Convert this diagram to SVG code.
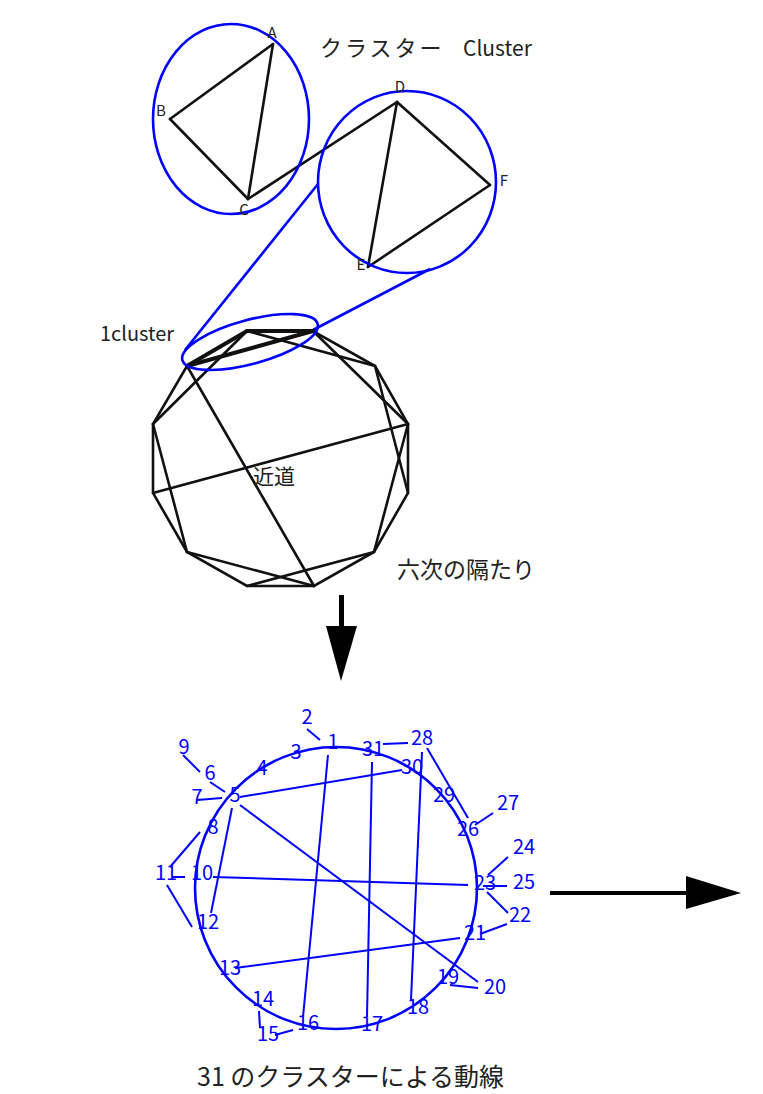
<svg xmlns="http://www.w3.org/2000/svg" width="763" height="1094" viewBox="0 0 763 1094">
<style>
.k{stroke:#111;stroke-width:2.6;fill:none;stroke-linecap:round}
.kt{stroke:#111;stroke-width:4;fill:none;stroke-linecap:round}
.b{stroke:#0000ff;stroke-width:2.6;fill:none}
.bl{stroke:#0000ff;stroke-width:2;fill:none}
.lab{font-family:"Noto Sans CJK JP","Noto Sans",sans-serif;fill:#222}
.n{font-family:"Noto Sans CJK JP","Noto Sans",sans-serif;fill:#0000ff;font-size:20px;text-anchor:middle}
</style>
<rect width="763" height="1094" fill="#fff"/>
<g id="connectors">
  <line class="k" x1="273" y1="44" x2="170" y2="119"/>
  <line class="k" x1="170" y1="119" x2="248" y2="199"/>
  <line class="k" x1="248" y1="199" x2="273" y2="44"/>
  <line class="k" x1="248" y1="199" x2="397" y2="102"/>
  <line class="k" x1="397" y1="102" x2="368" y2="267"/>
  <line class="k" x1="397" y1="102" x2="490" y2="185"/>
  <line class="k" x1="490" y1="185" x2="368" y2="267"/>
  <line class="b" x1="185" y1="350" x2="318" y2="184"/>
  <line class="b" x1="313" y1="330" x2="430" y2="269"/>
  <polygon class="k" points="247,331 313,331 375,366 408,424 408,493 374,552 314,586 247,586 187,552 153,493 153,424 187,366"/>
  <line class="k" x1="247" y1="331" x2="375" y2="366"/>
  <line class="k" x1="313" y1="331" x2="408" y2="424"/>
  <line class="k" x1="375" y1="366" x2="408" y2="493"/>
  <line class="k" x1="408" y1="424" x2="374" y2="552"/>
  <line class="k" x1="374" y1="552" x2="247" y2="586"/>
  <line class="k" x1="314" y1="586" x2="187" y2="552"/>
  <line class="k" x1="187" y1="552" x2="153" y2="424"/>
  <line class="k" x1="153" y1="424" x2="247" y2="331"/>
  <line class="k" x1="153" y1="493" x2="408" y2="424"/>
  <line class="k" x1="187" y1="366" x2="314" y2="586"/>
  <line class="kt" x1="187" y1="366" x2="247" y2="331"/>
  <line class="kt" x1="247" y1="331" x2="313" y2="331"/>
  <line class="kt" x1="187" y1="366" x2="313" y2="331"/>
  <line class="bl" x1="307" y1="729" x2="320" y2="740"/>
  <line class="bl" x1="183" y1="755" x2="200" y2="772"/>
  <line class="bl" x1="210" y1="782" x2="225" y2="792"/>
  <line class="bl" x1="197" y1="800" x2="222" y2="798"/>
  <line class="bl" x1="240" y1="797" x2="402" y2="770"/>
  <line class="bl" x1="232" y1="808" x2="211" y2="913"/>
  <line class="bl" x1="240" y1="805" x2="478" y2="982"/>
  <line class="bl" x1="200" y1="832" x2="170" y2="867"/>
  <line class="bl" x1="328" y1="755" x2="303" y2="1017"/>
  <line class="bl" x1="172" y1="877" x2="185" y2="877"/>
  <line class="bl" x1="213" y1="877" x2="468" y2="885"/>
  <line class="bl" x1="167" y1="885" x2="192" y2="927"/>
  <line class="bl" x1="235" y1="968" x2="460" y2="938"/>
  <line class="bl" x1="259" y1="1011" x2="260" y2="1028"/>
  <line class="bl" x1="275" y1="1035" x2="293" y2="1030"/>
  <line class="bl" x1="383" y1="744" x2="408" y2="743"/>
  <line class="bl" x1="372" y1="762" x2="367" y2="1017"/>
  <line class="bl" x1="422" y1="752" x2="411" y2="1000"/>
  <line class="bl" x1="427" y1="748" x2="468" y2="818"/>
  <line class="bl" x1="475" y1="825" x2="493" y2="813"/>
  <line class="bl" x1="488" y1="875" x2="508" y2="857"/>
  <line class="bl" x1="483" y1="886" x2="507" y2="886"/>
  <line class="bl" x1="487" y1="892" x2="508" y2="913"/>
  <line class="bl" x1="480" y1="934" x2="507" y2="924"/>
  <line class="bl" x1="450" y1="985" x2="478" y2="988"/>
</g>
<g id="cluster-ABC">
  <ellipse class="b" cx="231" cy="119" rx="78" ry="95"/>
  <text class="lab" font-size="15" text-anchor="middle" x="272" y="38">A</text>
  <text class="lab" font-size="15" text-anchor="middle" x="161" y="116">B</text>
  <text class="lab" font-size="15" text-anchor="middle" x="244" y="215">C</text>
</g>
<g id="cluster-DEF">
  <ellipse class="b" cx="407" cy="182" rx="89" ry="91"/>
  <text class="lab" font-size="15" text-anchor="middle" x="400" y="92">D</text>
  <text class="lab" font-size="15" text-anchor="middle" x="361" y="270">E</text>
  <text class="lab" font-size="15" text-anchor="middle" x="504" y="186">F</text>
</g>
<g id="title">
  <text class="lab" font-size="22" x="320" y="56"><tspan letter-spacing="3">クラスター</tspan><tspan x="463" font-size="21">Cluster</tspan></text>
</g>
<g id="one-cluster">
  <ellipse class="b" cx="250" cy="342" rx="70" ry="22" transform="rotate(-15 250 342)"/>
  <text class="lab" font-size="20" x="100" y="341">1cluster</text>
</g>
<g id="labels">
  <text class="lab" font-size="21" x="253" y="484">近道</text>
  <text class="lab" font-size="23" x="397" y="578">六次の隔たり</text>
  <text class="lab" font-size="25" x="197" y="1086">31 のクラスターによる動線</text>
</g>
<g id="arrow-down">
  <rect x="339" y="595" width="5" height="33" fill="#000"/>
  <polygon points="326,626 357,626 341,681" fill="#000"/>
</g>
<g id="arrow-right">
  <rect x="550" y="891" width="138" height="4" fill="#000"/>
  <polygon points="686,876 686,909 741,893" fill="#000"/>
</g>
<g id="ring31">
  <circle class="b" cx="336" cy="888" r="141"/>
  <text class="n" x="333" y="749">1</text>
  <text class="n" x="307" y="724">2</text>
  <text class="n" x="296" y="759">3</text>
  <text class="n" x="262" y="775">4</text>
  <text class="n" x="235" y="802">5</text>
  <text class="n" x="210" y="780">6</text>
  <text class="n" x="197" y="804">7</text>
  <text class="n" x="213" y="834">8</text>
  <text class="n" x="184" y="754">9</text>
  <text class="n" x="202" y="880">10</text>
  <text class="n" x="166" y="880">11</text>
  <text class="n" x="208" y="929">12</text>
  <text class="n" x="230" y="975">13</text>
  <text class="n" x="263" y="1006">14</text>
  <text class="n" x="268" y="1041">15</text>
  <text class="n" x="308" y="1030">16</text>
  <text class="n" x="372" y="1031">17</text>
  <text class="n" x="418" y="1014">18</text>
  <text class="n" x="448" y="984">19</text>
  <text class="n" x="495" y="994">20</text>
  <text class="n" x="475" y="940">21</text>
  <text class="n" x="520" y="922">22</text>
  <text class="n" x="485" y="890">23</text>
  <text class="n" x="524" y="854">24</text>
  <text class="n" x="524" y="889">25</text>
  <text class="n" x="468" y="836">26</text>
  <text class="n" x="508" y="810">27</text>
  <text class="n" x="422" y="745">28</text>
  <text class="n" x="444" y="802">29</text>
  <text class="n" x="412" y="774">30</text>
  <text class="n" x="373" y="756">31</text>
</g>
</svg>
